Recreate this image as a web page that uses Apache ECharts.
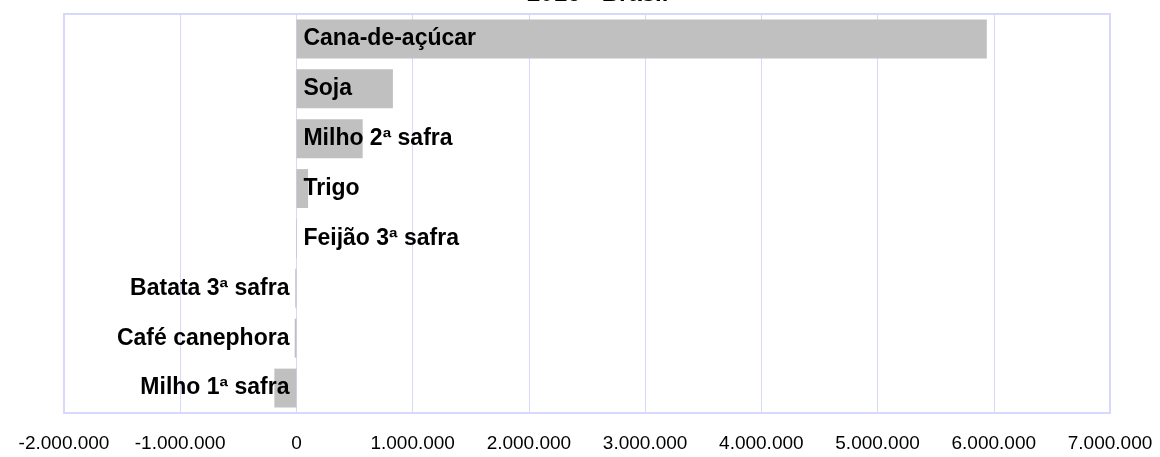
<!DOCTYPE html>
<html>
<head>
<meta charset="utf-8">
<script src="https://cdn.jsdelivr.net/npm/echarts@6/dist/echarts.min.js"></script>
<style>html,body{margin:0;padding:0;background:#fff}#c{width:1160px;height:457px}</style>
</head>
<body>
<div id="c"></div>
<script>
const titleText = '2016 - Brasil';
const categories = ['Cana-de-açúcar', 'Soja', 'Milho 2ª safra', 'Trigo', 'Feijão 3ª safra', 'Batata 3ª safra', 'Café canephora', 'Milho 1ª safra'];
const values = [5940000, 830000, 570000, 100000, 5000, -10000, -15000, -190000];
const axisMin = -2000000, axisMax = 7000000, axisStep = 1000000;

function fmt(v) {
  const s = Math.abs(v).toString().replace(/\B(?=(\d{3})+(?!\d))/g, '.');
  return (v < 0 ? '-' : '') + s;
}

const chart = echarts.init(document.getElementById('c'));
const lav = '#d8d8ff';
chart.setOption({
  animation: false,
  title: {
    text: titleText, left: 522, top: -23,
    textStyle: { fontFamily: 'Liberation Sans', fontWeight: 'bold', fontSize: 24, color: '#000' }
  },
  grid: { left: 64, right: 50, top: 14, bottom: 44, show: true, borderColor: lav, borderWidth: 2, containLabel: false },
  xAxis: {
    type: 'value', min: axisMin, max: axisMax, interval: axisStep,
    axisLine: { show: false }, axisTick: { show: false },
    splitLine: { show: true, lineStyle: { color: lav, width: 1 } },
    axisLabel: { formatter: fmt, fontFamily: 'Liberation Sans', fontSize: 19, color: '#000', margin: 21 }
  },
  yAxis: {
    type: 'category', data: categories, inverse: true,
    axisLine: { show: false }, axisTick: { show: false }, axisLabel: { show: false }, splitLine: { show: false }
  },
  series: [{
    type: 'bar', barCategoryGap: '22%',
    itemStyle: { color: '#c0c0c0' },
    data: values.map(v => ({
      value: v,
      label: { position: v >= 0 ? 'insideLeft' : 'insideRight' }
    })),
    label: {
      show: true, formatter: '{b}', distance: 7,
      fontFamily: 'Liberation Sans', fontWeight: 'bold', fontSize: 23, color: '#000'
    }
  }]
});
</script>
</body>
</html>
